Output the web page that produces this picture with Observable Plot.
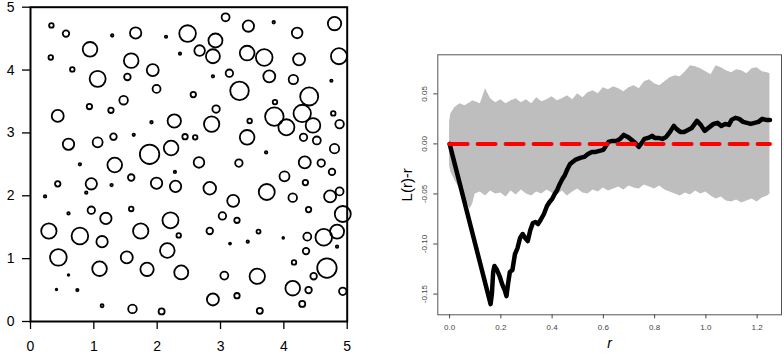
<!DOCTYPE html>
<html><head><meta charset="utf-8">
<script src="https://cdn.jsdelivr.net/npm/d3@7"></script>
<script src="https://cdn.jsdelivr.net/npm/@observablehq/plot@0.6"></script>
<style>body{margin:0;background:#fff} #wrap{display:flex;width:784px;height:356px;overflow:hidden}</style>
</head><body><div id="wrap"></div>
<script>
// ---- Left panel: marked point pattern (x, y, mark = circle radius in window units)
const ptX = [0.33,0.56,1.29,1.66,2.14,0.94,0.32,1.59,0.66,1.93,
 1.06,1.53,1.99,1.47,0.93,1.27,0.43,1.91,2.27,0.60,
 1.06,1.31,1.63,1.88,2.22,0.78,1.33,2.48,2.36,3.08,
 3.44,3.84,4.21,4.80,2.92,2.67,2.88,3.42,3.69,4.24,
 4.87,2.88,3.14,3.77,4.15,4.75,3.30,2.57,4.40,3.86,
 2.93,3.85,4.29,4.78,3.46,4.04,4.46,4.88,2.86,2.44,
 2.60,3.42,4.31,4.52,4.80,3.72,2.66,3.29,4.33,4.59,
 4.76,2.28,0.43,0.96,1.28,1.59,1.99,2.29,0.23,0.88,
 0.60,0.96,1.59,1.19,2.21,0.29,0.78,1.74,2.34,1.13,
 2.16,0.44,1.52,1.09,1.84,2.38,0.60,0.41,0.74,1.13,
 1.61,2.07,2.83,3.73,4.01,4.34,3.20,4.14,4.73,4.88,
 3.03,3.26,4.39,4.93,2.83,3.60,3.15,3.43,3.99,4.37,
 4.63,4.84,4.84,4.35,4.16,3.06,3.58,4.68,4.47,4.14,
 4.39,4.93,2.88,3.26,4.29,3.62];
const ptY = [4.71,4.58,4.55,4.59,4.53,4.33,4.20,4.15,4.01,4.00,
 3.86,3.89,3.70,3.52,3.42,3.36,3.27,3.17,3.19,2.82,
 2.85,2.94,2.97,2.66,2.76,2.50,2.49,4.58,4.26,4.84,
 4.70,4.76,4.59,4.74,4.47,4.31,4.22,4.27,4.20,4.17,
 4.22,3.90,3.95,3.90,3.85,3.83,3.67,3.61,3.58,3.49,
 3.38,3.26,3.31,3.31,3.19,3.09,3.12,3.14,3.14,2.94,
 2.93,2.93,2.93,2.88,2.75,2.69,2.53,2.52,2.53,2.52,
 2.38,2.38,2.19,2.19,2.17,2.29,2.20,2.15,1.99,2.05,
 1.72,1.77,1.79,1.64,1.61,1.44,1.36,1.44,1.37,1.27,
 1.13,1.02,1.02,0.84,0.83,0.78,0.74,0.51,0.50,0.25,
 0.20,0.16,2.12,2.06,2.31,2.21,1.92,1.97,1.99,2.07,
 1.68,1.61,1.78,1.71,1.44,1.43,1.24,1.27,1.33,1.35,
 1.34,1.43,1.19,1.12,0.94,0.73,0.72,0.85,0.72,0.53,
 0.50,0.48,0.35,0.41,0.28,0.17];
const ptMark = [0.036,0.052,0.020,0.090,0.019,0.116,0.036,0.116,0.036,0.095,
 0.127,0.052,0.063,0.068,0.043,0.043,0.095,0.020,0.106,0.090,
 0.079,0.052,0.019,0.154,0.116,0.020,0.116,0.132,0.019,0.063,
 0.090,0.020,0.084,0.106,0.111,0.084,0.111,0.116,0.132,0.095,
 0.127,0.020,0.059,0.095,0.074,0.019,0.147,0.043,0.143,0.036,
 0.059,0.147,0.138,0.036,0.036,0.127,0.116,0.068,0.122,0.043,
 0.036,0.116,0.059,0.063,0.074,0.020,0.084,0.059,0.095,0.059,
 0.052,0.019,0.043,0.090,0.020,0.052,0.090,0.090,0.020,0.020,
 0.020,0.059,0.036,0.090,0.127,0.122,0.132,0.122,0.036,0.090,
 0.116,0.132,0.095,0.116,0.106,0.111,0.013,0.013,0.019,0.024,
 0.068,0.048,0.100,0.127,0.079,0.043,0.095,0.068,0.095,0.063,
 0.059,0.043,0.043,0.127,0.052,0.032,0.016,0.019,0.014,0.063,
 0.132,0.111,0.020,0.052,0.036,0.063,0.122,0.154,0.052,0.116,
 0.052,0.059,0.095,0.043,0.048,0.048];
const ppTicks = [0, 1, 2, 3, 4, 5];

// ---- Right panel: L(r)-r with simulation envelope
const envR  = [0,0.005,0.02,0.04,0.06,0.08,0.09,0.10,0.12,0.14,0.16,0.18,0.20,0.22,0.24,0.26,0.28,0.30,0.32,0.34,0.36,0.38,0.40,0.42,0.44,0.46,0.48,0.50,0.52,0.54,0.56,0.58,0.60,0.62,0.64,0.66,0.68,0.70,0.72,0.74,0.76,0.78,0.80,0.82,0.84,0.86,0.88,0.90,0.92,0.94,0.96,0.98,1.00,1.02,1.04,1.06,1.08,1.10,1.12,1.14,1.16,1.18,1.20,1.22,1.24,1.25];
const envHi = [0.022,0.030,0.036,0.040,0.038,0.041,0.043,0.042,0.040,0.055,0.045,0.041,0.044,0.040,0.043,0.045,0.041,0.044,0.040,0.046,0.042,0.044,0.047,0.043,0.045,0.048,0.044,0.050,0.046,0.051,0.053,0.050,0.056,0.054,0.057,0.055,0.052,0.056,0.058,0.055,0.062,0.064,0.060,0.058,0.062,0.066,0.068,0.067,0.072,0.078,0.077,0.075,0.072,0.069,0.078,0.076,0.073,0.071,0.074,0.073,0.070,0.075,0.076,0.072,0.071,0.070];
const envLo = [-0.022,-0.028,-0.036,-0.045,-0.055,-0.065,-0.060,-0.050,-0.048,-0.052,-0.047,-0.050,-0.049,-0.053,-0.047,-0.051,-0.046,-0.050,-0.052,-0.048,-0.050,-0.046,-0.049,-0.051,-0.047,-0.052,-0.048,-0.045,-0.049,-0.050,-0.046,-0.048,-0.044,-0.047,-0.045,-0.043,-0.046,-0.042,-0.044,-0.045,-0.041,-0.043,-0.045,-0.042,-0.046,-0.048,-0.050,-0.052,-0.049,-0.051,-0.047,-0.050,-0.048,-0.052,-0.055,-0.053,-0.057,-0.058,-0.056,-0.059,-0.057,-0.055,-0.058,-0.054,-0.052,-0.050];
const obsR = [0,0.16,0.165,0.17,0.175,0.185,0.195,0.205,0.215,0.222,0.228,0.235,0.245,0.255,0.265,0.275,0.285,0.295,0.305,0.315,0.325,0.335,0.345,0.355,0.368,0.38,0.39,0.40,0.41,0.42,0.43,0.44,0.45,0.46,0.47,0.48,0.49,0.50,0.51,0.525,0.54,0.555,0.57,0.585,0.60,0.61,0.62,0.635,0.65,0.665,0.68,0.695,0.71,0.725,0.738,0.75,0.76,0.775,0.79,0.80,0.815,0.83,0.845,0.86,0.875,0.885,0.90,0.915,0.93,0.945,0.965,0.98,0.995,1.01,1.03,1.045,1.06,1.075,1.09,1.10,1.115,1.13,1.145,1.16,1.175,1.19,1.205,1.22,1.235,1.25];
const obsV = [0,-0.160,-0.150,-0.128,-0.122,-0.126,-0.132,-0.140,-0.146,-0.152,-0.140,-0.128,-0.126,-0.110,-0.104,-0.094,-0.090,-0.094,-0.097,-0.086,-0.079,-0.078,-0.080,-0.076,-0.070,-0.062,-0.058,-0.055,-0.050,-0.046,-0.040,-0.035,-0.031,-0.025,-0.020,-0.018,-0.016,-0.015,-0.014,-0.013,-0.010,-0.008,-0.008,-0.007,-0.006,-0.002,0.002,0.003,0.003,0.005,0.009,0.007,0.004,0.001,-0.003,0.001,0.005,0.006,0.008,0.006,0.006,0.005,0.007,0.012,0.018,0.015,0.012,0.012,0.014,0.016,0.023,0.019,0.013,0.016,0.020,0.021,0.018,0.020,0.019,0.024,0.026,0.025,0.022,0.021,0.020,0.021,0.022,0.025,0.024,0.024];
const theoR = [0, 1.25];
const theoV = [0, 0];
const kTicksX = [0, 0.2, 0.4, 0.6, 0.8, 1.0, 1.2];
const kTicksY = [-0.15, -0.10, -0.05, 0, 0.05];

const font = '"Liberation Sans", Arial, Helvetica, sans-serif';
const pts = ptX.map((x, i) => ({x, y: ptY[i], m: ptMark[i]}));

const left = Plot.plot({
  width: 370, height: 356,
  marginLeft: 30, marginRight: 23.3, marginTop: 6.7, marginBottom: 35,
  style: {fontFamily: font, background: "white", overflow: "visible"},
  x: {domain: [0, 5], label: null},
  y: {domain: [0, 5], label: null},
  r: {type: "linear", domain: [0, 1], range: [0, 63.1]},
  marks: [
    Plot.dot(pts, {x: "x", y: "y", r: "m", stroke: "black", strokeWidth: 1.8, fill: "none"}),
    Plot.frame({stroke: "black", strokeWidth: 2}),
    Plot.axisX(ppTicks, {tickSize: 8, tickPadding: 12, fontSize: 14, color: "black", strokeWidth: 1.3, tickFormat: d => String(d), label: null}),
    Plot.axisY(ppTicks, {tickSize: 8, tickPadding: 8, fontSize: 14, color: "black", strokeWidth: 1.3, tickFormat: d => String(d), label: null})
  ]
});

const envData = envR.map((r, i) => ({r, hi: envHi[i], lo: envLo[i]}));
const obsData = obsR.map((r, i) => ({r, v: obsV[i]}));
const theoData = theoR.map((r, i) => ({r, v: theoV[i]}));

const right = Plot.plot({
  width: 414, height: 356,
  marginLeft: 67.3, marginRight: 3, marginTop: 54.3, marginBottom: 41.7,
  style: {fontFamily: font, background: "white", overflow: "visible"},
  x: {domain: [-0.046, 1.295], label: null},
  y: {domain: [-0.1707, 0.089], label: null},
  marks: [
    Plot.areaY(envData, {x: "r", y1: "lo", y2: "hi", fill: "#bebebe"}),
    Plot.line(obsData, {x: "r", y: "v", stroke: "black", strokeWidth: 4.5, strokeLinejoin: "round"}),
    Plot.line(theoData, {x: "r", y: "v", stroke: "#ff0000", strokeWidth: 4, strokeDasharray: "18,10"}),
    Plot.frame({stroke: "#555", strokeWidth: 1}),
    Plot.axisX(kTicksX, {tickSize: 4, tickPadding: 6, fontSize: 8, color: "#444", tickFormat: d => d.toFixed(1), label: null}),
    Plot.axisY(kTicksY, {tickSize: 4, tickPadding: 6.6, fontSize: 8, color: "#444", tickRotate: -90, tickFormat: d => d.toFixed(2), label: null}),
    Plot.text(["L(r)-r"], {text: d => d, frameAnchor: "left", textAnchor: "middle", rotate: -90, dx: -31, fontSize: 15, fill: "black"}),
    Plot.text(["r"], {text: d => d, frameAnchor: "bottom", dy: 33, fontSize: 14, fontStyle: "italic", fill: "black"})
  ]
});

const wrap = document.getElementById("wrap");
wrap.appendChild(left);
wrap.appendChild(right);
</script>
</body></html>
